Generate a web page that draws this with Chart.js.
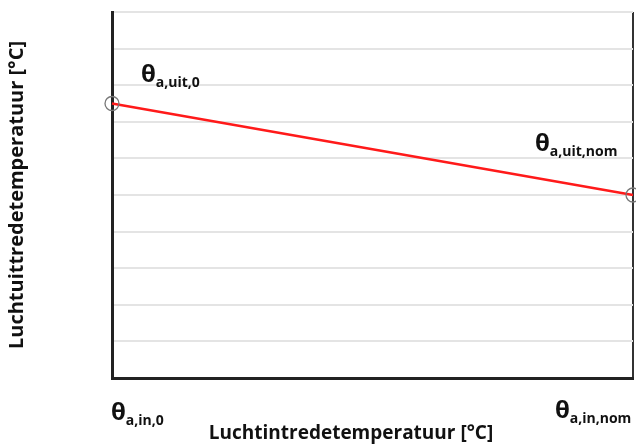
<!DOCTYPE html>
<html>
<head>
<meta charset="utf-8">
<script src="https://cdn.jsdelivr.net/npm/chart.js@4"></script>
<style>
  html, body { margin: 0; padding: 0; background: #fff; }
  #wrap { width: 636px; height: 444px; }
</style>
</head>
<body>
<div id="wrap"><canvas id="grafiek"></canvas></div>
<script>
// relatieve waarden, de figuur heeft geen schaalverdeling
const luchtIn = [0, 1];
const luchtUit = [7.5, 5];
const yMin = 0, yMax = 10;
const xTitel = 'Luchtintredetemperatuur [°C]';
const yTitel = 'Luchtuittredetemperatuur [°C]';
const puntLabels = ['a,uit,0', 'a,uit,nom'];
const asLabels = ['a,in,0', 'a,in,nom'];

const lettertype = '"Open Sans", "DejaVu Sans", sans-serif';

function tekenTheta(ctx, x, y, sub) {
  ctx.save();
  ctx.fillStyle = '#111';
  ctx.textBaseline = 'alphabetic';
  ctx.textAlign = 'left';
  ctx.font = 'bold 24px ' + lettertype;
  ctx.fillText('θ', x, y);
  const w = ctx.measureText('θ').width;
  ctx.font = 'bold 14px ' + lettertype;
  ctx.fillText(sub, x + w, y + 5);
  ctx.restore();
}

const annotaties = {
  id: 'annotaties',
  afterDraw(chart) {
    const ctx = chart.ctx;
    const xs = chart.scales.x, ys = chart.scales.y;
    const area = chart.chartArea;

    // labels bij de punten
    tekenTheta(ctx, xs.getPixelForValue(luchtIn[0]) + 29, ys.getPixelForValue(luchtUit[0]) - 22, puntLabels[0]);
    tekenTheta(ctx, xs.getPixelForValue(luchtIn[1]) - 98, ys.getPixelForValue(luchtUit[1]) - 44, puntLabels[1]);

    // labels onder de x-as
    tekenTheta(ctx, xs.getPixelForValue(luchtIn[0]) - 1, area.bottom + 42, asLabels[0]);
    tekenTheta(ctx, xs.getPixelForValue(luchtIn[1]) - 78, area.bottom + 40, asLabels[1]);

    ctx.save();
    ctx.fillStyle = '#111';
    ctx.font = 'bold 19px ' + lettertype;
    ctx.textAlign = 'center';
    ctx.textBaseline = 'alphabetic';
    ctx.fillText(xTitel, 351, area.bottom + 61);
    ctx.restore();
  }
};

new Chart(document.getElementById('grafiek'), {
  type: 'line',
  data: {
    datasets: [{
      data: luchtIn.map((x, i) => ({ x: x, y: luchtUit[i] })),
      borderColor: '#ff1a1a',
      borderWidth: 2.5,
      pointRadius: 7,
      pointBorderWidth: 1.3,
      pointBorderColor: '#777',
      pointBackgroundColor: 'rgba(0,0,0,0)',
      clip: false,
      tension: 0
    }]
  },
  options: {
    responsive: true,
    maintainAspectRatio: false,
    animation: false,
    events: [],
    layout: { autoPadding: false, padding: { top: 12, right: 3, left: 0, bottom: 0 } },
    plugins: {
      legend: { display: false },
      tooltip: { enabled: false }
    },
    scales: {
      x: {
        type: 'linear',
        min: 0,
        max: 1,
        ticks: { display: false, stepSize: 1 },
        grid: {
          drawTicks: false,
          lineWidth: 2,
          color: c => c.tick && c.tick.value === 1 ? '#333' : 'rgba(0,0,0,0)'
        },
        border: { color: '#222', width: 3 },
        afterFit: s => { s.height = 66; }
      },
      y: {
        min: yMin,
        max: yMax,
        ticks: { display: false, stepSize: 1 },
        grid: { drawTicks: false, color: '#e4e4e4', lineWidth: 2 },
        border: { color: '#222', width: 3 },
        title: {
          display: true,
          text: yTitel,
          color: '#111',
          font: { family: lettertype, size: 20, weight: 'bold' },
          padding: { top: 5, bottom: 0 }
        },
        afterFit: s => { s.width = 112; }
      }
    }
  },
  plugins: [annotaties]
});
</script>
</body>
</html>
